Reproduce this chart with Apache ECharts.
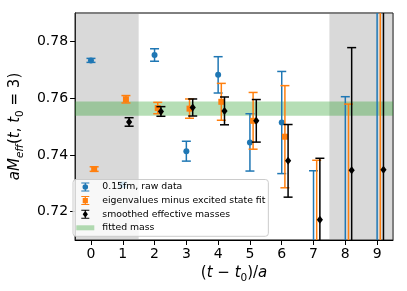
<!DOCTYPE html>
<html><head><meta charset="utf-8">
<script src="https://cdn.jsdelivr.net/npm/echarts@6/dist/echarts.min.js"></script>
<style>html,body{margin:0;padding:0;background:#fff}#c{width:407px;height:291px}</style>
</head><body><div id="c"></div>
<script>
// ---- data ----
const xTicks = [0, 1, 2, 3, 4, 5, 6, 7, 8, 9];
const yTicks = [0.72, 0.74, 0.76, 0.78];
const rawX   = [0, 1, 2, 3, 4, 5, 6, 7, 8, 9];
const rawY   = [0.7733, 0.7295, 0.7752, 0.7413, 0.7682, 0.7444, 0.7514, 0.7050, 0.7000, 0.7000];
const rawErr = [0.0007, 0.0008, 0.0022, 0.0035, 0.0064, 0.0101, 0.0180, 0.0294, 0.0605, 0.2000];
const eigX   = [0.1, 1.1, 2.1, 3.1, 4.1, 5.1, 6.1, 7.1, 8.1, 9.1];
const eigY   = [0.7350, 0.7596, 0.7565, 0.7563, 0.7587, 0.7520, 0.7464, 0.7060, 0.7000, 0.7000];
const eigErr = [0.0008, 0.0013, 0.0020, 0.0034, 0.0065, 0.0100, 0.0180, 0.0321, 0.0579, 0.2000];
const smX    = [1.2, 2.2, 3.2, 4.2, 5.2, 6.2, 7.2, 8.2, 9.2];
const smY    = [0.7516, 0.7553, 0.7567, 0.7555, 0.7520, 0.7379, 0.7171, 0.7346, 0.7348];
const smErr  = [0.0015, 0.0017, 0.0030, 0.0049, 0.0075, 0.0128, 0.0217, 0.0432, 0.0800];
const fitBand = [0.7538, 0.7588];
const excluded = [[-0.5, 1.5], [7.5, 9.5]];
const names = ['0.15fm, raw data', 'eigenvalues minus excited state fit', 'smoothed effective masses', 'fitted mass'];

const blue = '#1f77b4', orange = '#ff7f0e', black = '#000000', green = 'rgba(44,160,44,0.35)';
const FONT = 'DejaVu Sans';

function marker(kind, cx, cy, color) {
  if (kind === 'circle') return {type: 'circle', shape: {cx: cx, cy: cy, r: 3}, style: {fill: color}};
  if (kind === 'square') return {type: 'rect', shape: {x: cx - 3, y: cy - 3, width: 6, height: 6}, style: {fill: color}};
  return {type: 'polygon', shape: {points: [[cx, cy - 4], [cx + 3.1, cy], [cx, cy + 4], [cx - 3.1, cy]]}, style: {fill: color}};
}
function makeRender(kind, color) {
  return function (params, api) {
    const x = api.value(0), y = api.value(1), e = api.value(2);
    const c = api.coord([x, y]);
    const t = api.coord([x, y + e]);
    const b = api.coord([x, y - e]);
    const cw = 4.5, lw = 1.5;
    const st = {stroke: color, lineWidth: lw};
    return {type: 'group', children: [
      {type: 'line', shape: {x1: c[0], y1: t[1], x2: c[0], y2: b[1]}, style: st},
      {type: 'line', shape: {x1: c[0] - cw, y1: t[1], x2: c[0] + cw, y2: t[1]}, style: st},
      {type: 'line', shape: {x1: c[0] - cw, y1: b[1], x2: c[0] + cw, y2: b[1]}, style: st},
      marker(kind, c[0], c[1], color)
    ]};
  };
}
function zip(xs, ys, es) { return xs.map((x, i) => [x, ys[i], es[i]]); }

const iconBar = 'M0 0H8V1H4.6V8H8V9H0V8H3.4V1H0Z';
const iconCircle = 'path://' + iconBar + 'M1.2 4.5A2.8 2.8 0 1 1 6.8 4.5A2.8 2.8 0 1 1 1.2 4.5Z';
const iconSquare = 'path://' + iconBar + 'M1.4 1.9H6.6V7.1H1.4Z';
const iconDiamond = 'path://' + iconBar + 'M4 1.0L6.6 4.5L4 8.0L1.4 4.5Z';
const iconRect = 'path://M0 0H18V5H0Z';

const chart = echarts.init(document.getElementById('c'), null, {renderer: 'canvas'});
chart.setOption({
  animation: false,
  backgroundColor: '#fff',
  grid: {left: 68, right: 14, top: 13, bottom: 51, show: true, borderColor: '#000', borderWidth: 1, backgroundColor: '#fff'},
  xAxis: {
    type: 'value', min: -0.5, max: 9.5,
    name: '{n|(}{i|t}{n| − }{i|t}{s|0}{n|)/}{i|a}',
    nameLocation: 'middle', nameGap: 24,
    nameTextStyle: {fontFamily: FONT, fontSize: 15, color: '#000',
      rich: {n: {fontFamily: FONT, fontSize: 15, color: '#000'},
             i: {fontFamily: FONT, fontSize: 15, fontStyle: 'italic', color: '#000'},
             s: {fontFamily: FONT, fontSize: 10.5, color: '#000', verticalAlign: 'bottom', padding: [0, 0, -3, 0]}}},
    axisLine: {show: true, onZero: false, lineStyle: {color: '#000', width: 1}},
    axisTick: {show: true, length: 5, lineStyle: {color: '#000', width: 1}, customValues: xTicks},
    axisLabel: {fontFamily: FONT, fontSize: 14, color: '#000', margin: 7, customValues: xTicks},
    splitLine: {show: false}
  },
  yAxis: {
    type: 'value', min: 0.71, max: 0.79,
    name: '{i|aM}{si|eff}{n|(}{i|t}{n|, }{i|t}{s|0}{n| = 3)}',
    nameLocation: 'middle', nameGap: 46, nameRotate: 90,
    nameTextStyle: {fontFamily: FONT, fontSize: 15, color: '#000',
      rich: {n: {fontFamily: FONT, fontSize: 15, color: '#000'},
             i: {fontFamily: FONT, fontSize: 15, fontStyle: 'italic', color: '#000'},
             si: {fontFamily: FONT, fontSize: 10.5, fontStyle: 'italic', color: '#000', verticalAlign: 'bottom', padding: [0, 0, -3, 0]},
             s: {fontFamily: FONT, fontSize: 10.5, color: '#000', verticalAlign: 'bottom', padding: [0, 0, -3, 0]}}},
    axisLine: {show: true, onZero: false, lineStyle: {color: '#000', width: 1}},
    axisTick: {show: true, length: 5, lineStyle: {color: '#000', width: 1}, customValues: yTicks},
    axisLabel: {fontFamily: FONT, fontSize: 14, color: '#000', margin: 7, customValues: yTicks,
      formatter: v => v.toFixed(2)},
    splitLine: {show: false}
  },
  legend: {
    orient: 'vertical', left: 73, top: 179.5,
    itemWidth: 18, itemHeight: 9, itemGap: 3.6,
    padding: [2.5, 3, 3.5, 3.3],
    backgroundColor: 'rgba(255,255,255,0.8)', borderColor: '#cccccc', borderWidth: 1, borderRadius: 3,
    textStyle: {fontFamily: FONT, fontSize: 9.3, color: '#000', lineHeight: 10, padding: [0, 0, 0, 3]},
    data: [
      {name: names[0], icon: iconCircle},
      {name: names[1], icon: iconSquare},
      {name: names[2], icon: iconDiamond},
      {name: names[3], icon: iconRect}
    ]
  },
  series: [
    {type: 'custom', name: 'excluded', silent: true, z: 1, data: [], renderItem: () => null,
     markArea: {silent: true, itemStyle: {color: 'rgba(128,128,128,0.3)'},
       data: excluded.map(r => [{xAxis: r[0]}, {xAxis: r[1]}])}},
    {type: 'custom', name: names[3], silent: true, z: 1, data: [], renderItem: () => null,
     itemStyle: {color: green},
     markArea: {silent: true, itemStyle: {color: green},
       data: [[{yAxis: fitBand[0]}, {yAxis: fitBand[1]}]]}},
    {type: 'custom', name: names[0], z: 3, clip: true, itemStyle: {color: blue},
     encode: {x: 0, y: 1}, data: zip(rawX, rawY, rawErr), renderItem: makeRender('circle', blue)},
    {type: 'custom', name: names[1], z: 3, clip: true, itemStyle: {color: orange},
     encode: {x: 0, y: 1}, data: zip(eigX, eigY, eigErr), renderItem: makeRender('square', orange)},
    {type: 'custom', name: names[2], z: 3, clip: true, itemStyle: {color: black},
     encode: {x: 0, y: 1}, data: zip(smX, smY, smErr), renderItem: makeRender('diamond', black)}
  ]
});
</script></body></html>
